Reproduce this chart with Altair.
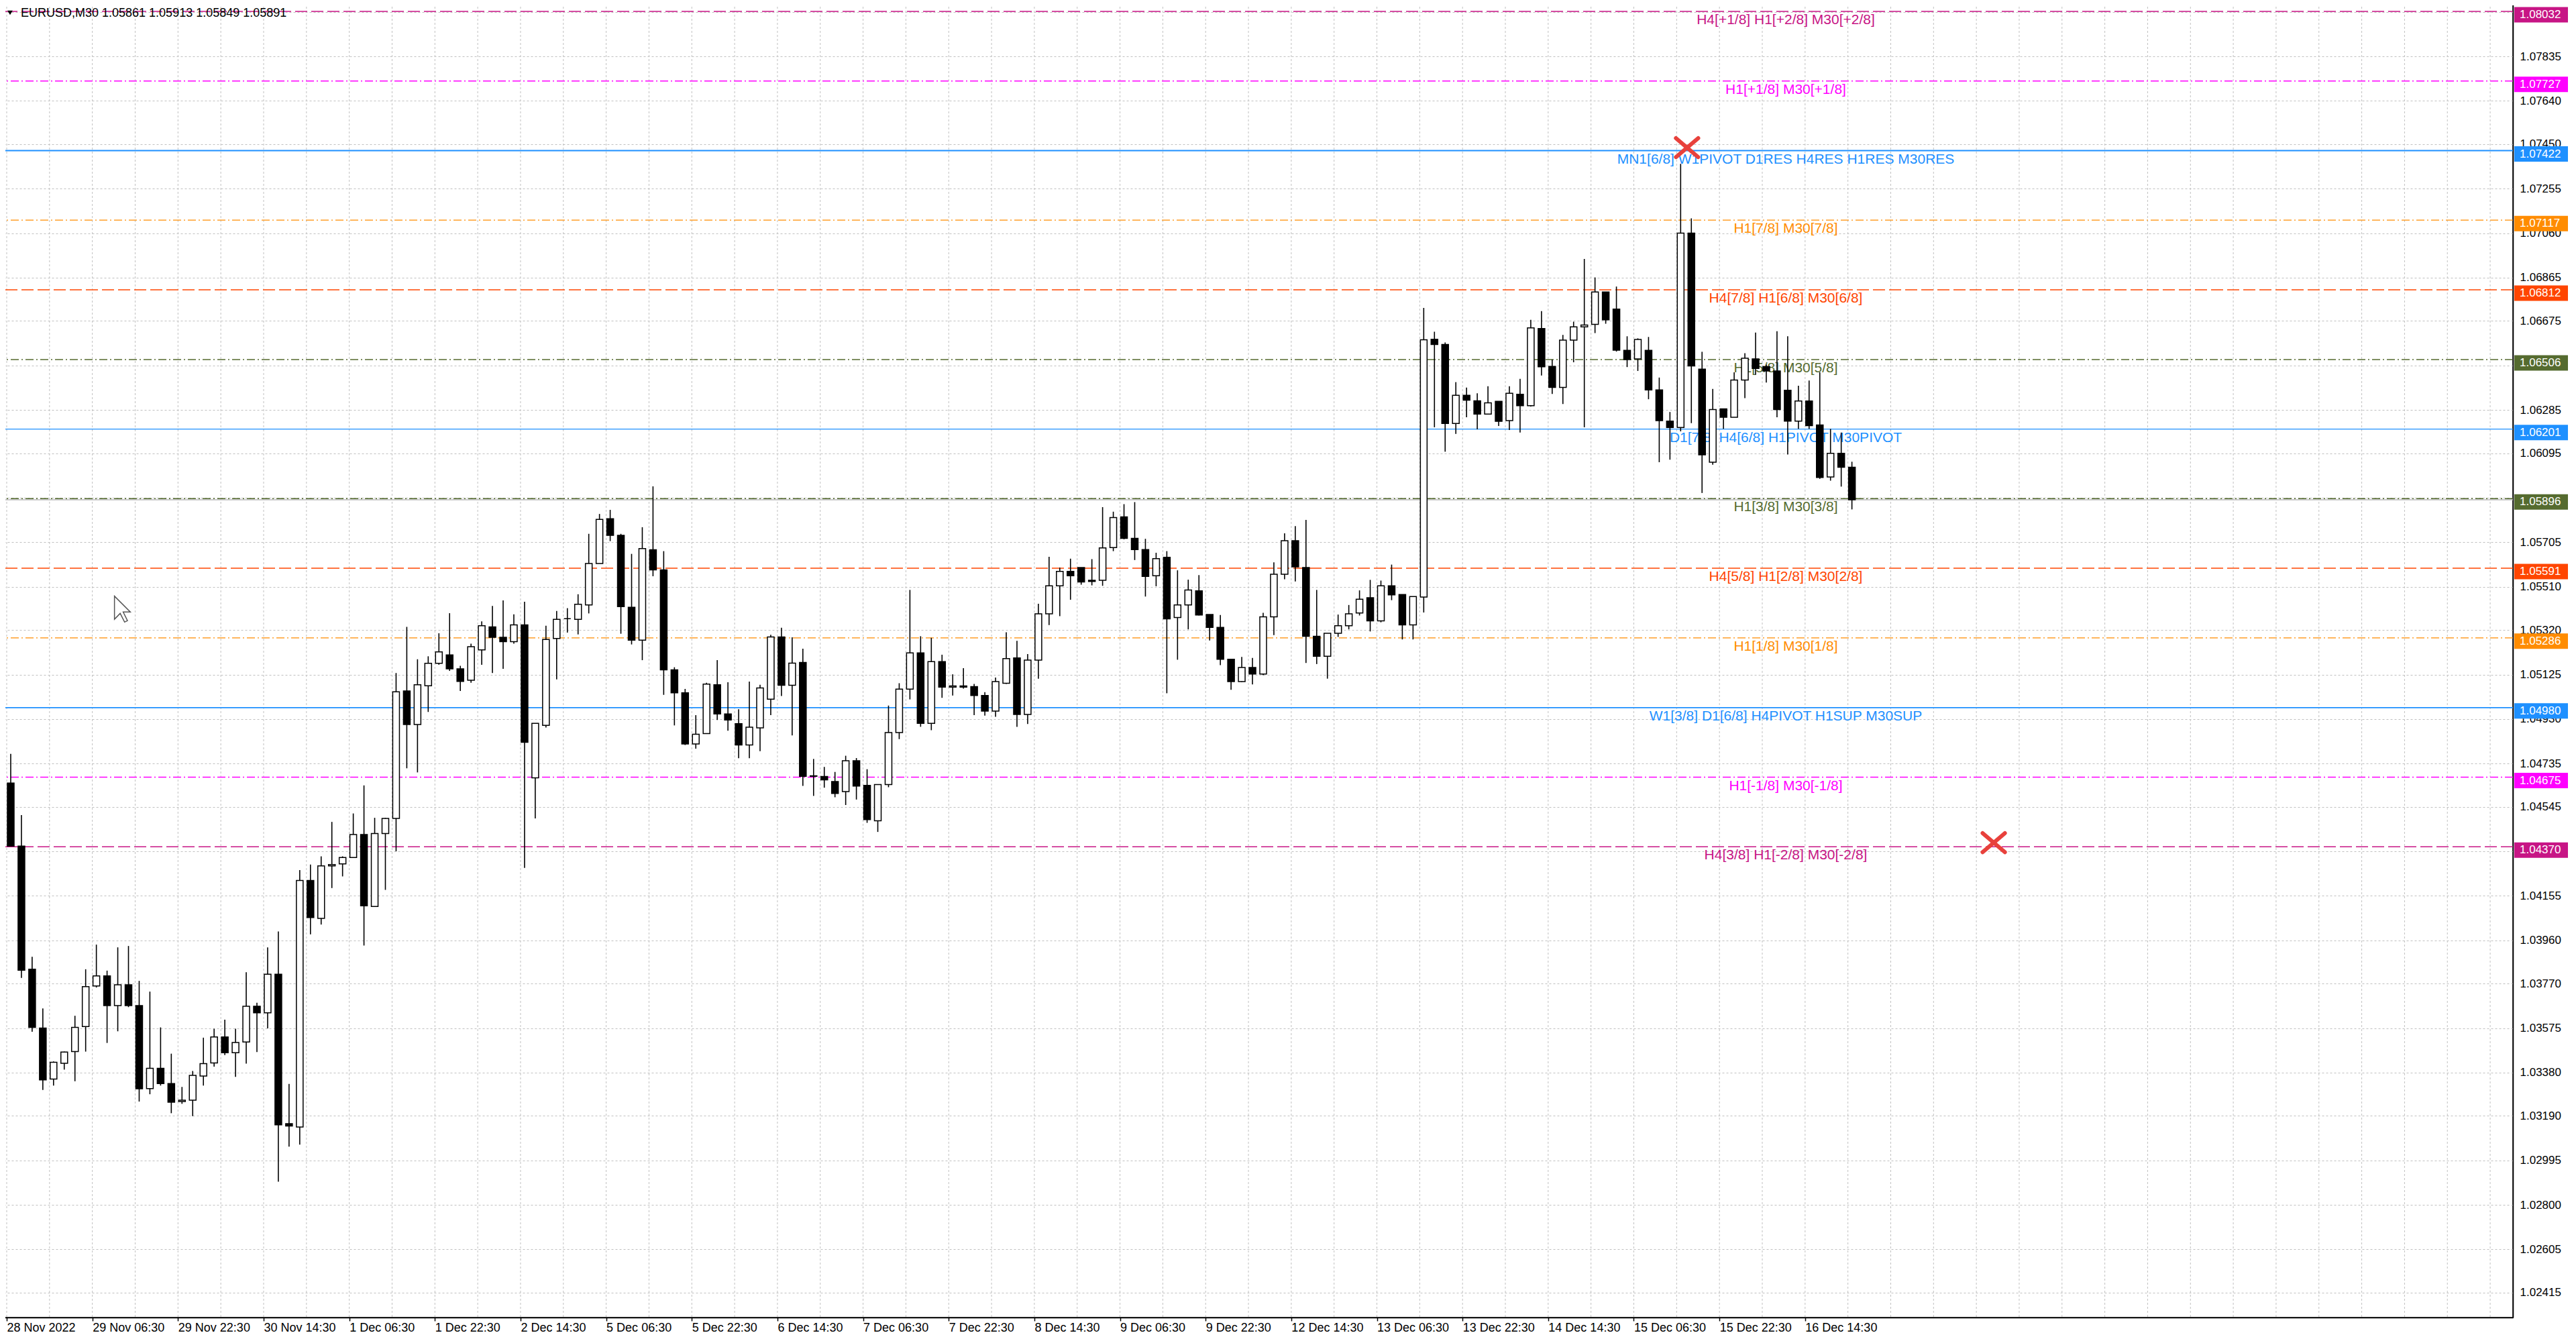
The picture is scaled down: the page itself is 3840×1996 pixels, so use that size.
import altair as alt
import pandas as pd

# EURUSD M30, grouped four bars per candle (prices in points, 1e-5)
opens = [
    104649, 104373, 103833, 103575, 103352, 103421, 103472, 103582, 103760, 103804,
    103674, 103765, 103674, 103310, 103399, 103332, 103253, 103259, 103365, 103422,
    103536, 103467, 103514, 103671, 103642, 103811, 103156, 103141, 104222, 104056,
    104286, 104295, 104323, 104424, 104108, 104428, 104494, 105053, 104906, 105076,
    105174, 105211, 105150, 105100, 105233, 105334, 105288, 105269, 105343, 104672,
    104902, 105283, 105370, 105367, 105430, 105612, 105808, 105735, 105420, 105276,
    105672, 105584, 105146, 105045, 104821, 104866, 105080, 104952, 104910, 104816,
    104891, 105017, 105290, 105078, 105178, 104681, 104678, 104656, 104612, 104747,
    104639, 104484, 104643, 104871, 105061, 105220, 104911, 105182, 105070, 105075,
    105072, 105033, 104965, 105087, 105198, 104950, 105188, 105391, 105514, 105577,
    105594, 105538, 105538, 105682, 105816, 105722, 105673, 105558, 105639, 105375,
    105430, 105492, 105388, 105332, 105192, 105094, 105156, 105127, 105378, 105565,
    105712, 105594, 105293, 105205, 105306, 105339, 105395, 105462, 105360, 105514,
    105476, 105343, 105465, 106595, 106572, 106226, 106349, 106325, 106267, 106323,
    106238, 106354, 106304, 106642, 106476, 106384, 106591, 106649, 106660, 106802,
    106727, 106546, 106509, 106546, 106373, 106236, 106208, 107060, 106464, 106056,
    106290, 106253, 106416, 106509, 106475, 106456, 106371, 106236, 106324, 106219,
    105991, 106095, 106034,
]
highs = [
    104777, 104509, 103888, 103661, 103429, 103472, 103629, 103833, 103941, 103827,
    103929, 103935, 103782, 103735, 103578, 103463, 103317, 103387, 103533, 103572,
    103612, 103572, 103820, 103686, 103929, 103999, 103330, 104268, 104292, 104328,
    104479, 104328, 104516, 104639, 104497, 104497, 105132, 105334, 105192, 105205,
    105306, 105394, 105163, 105260, 105358, 105426, 105450, 105389, 105444, 104911,
    105339, 105404, 105416, 105477, 105742, 105829, 105847, 105742, 105654, 105771,
    105950, 105666, 105157, 105062, 104947, 105089, 105188, 105091, 104973, 105094,
    105080, 105299, 105330, 105288, 105238, 104755, 104720, 104698, 104769, 104759,
    104710, 104643, 104989, 105087, 105496, 105293, 105286, 105212, 105126, 105153,
    105084, 105048, 105112, 105310, 105273, 105215, 105435, 105641, 105594, 105633,
    105594, 105631, 105859, 105839, 105872, 105881, 105720, 105659, 105666, 105582,
    105541, 105561, 105388, 105386, 105192, 105202, 105198, 105396, 105617, 105744,
    105776, 105803, 105496, 105306, 105388, 105430, 105494, 105540, 105537, 105607,
    105476, 105467, 106732, 106628, 106581, 106407, 106383, 106358, 106389, 106323,
    106389, 106421, 106680, 106718, 106506, 106614, 106672, 106947, 106866, 106802,
    106826, 106608, 106599, 106605, 106427, 106276, 107364, 107125, 106540, 106377,
    106290, 106450, 106534, 106624, 106484, 106630, 106608, 106391, 106414, 106450,
    106202, 106186, 106058,
]
lows = [
    104373, 103795, 103559, 103304, 103323, 103393, 103342, 103472, 103753, 103510,
    103561, 103667, 103253, 103285, 103323, 103202, 103243, 103189, 103323, 103406,
    103457, 103361, 103419, 103470, 103574, 102902, 103055, 103064, 103986, 104029,
    104189, 104240, 104323, 103937, 104108, 104181, 104350, 104714, 104696, 104961,
    105168, 105141, 105053, 105089, 105168, 105132, 105150, 105260, 104277, 104494,
    104893, 105104, 105309, 105301, 105393, 105612, 105710, 105304, 105257, 105188,
    105556, 105036, 104902, 104816, 104800, 104866, 104926, 104879, 104758, 104758,
    104789, 104947, 105031, 104858, 104637, 104593, 104629, 104587, 104553, 104577,
    104475, 104435, 104631, 104842, 105016, 104896, 104881, 105023, 105033, 105063,
    104947, 104945, 104940, 105084, 104896, 104908, 105107, 105342, 105381, 105453,
    105519, 105516, 105514, 105666, 105718, 105627, 105467, 105512, 105043, 105190,
    105323, 105384, 105274, 105166, 105058, 105092, 105082, 105122, 105298, 105543,
    105533, 105176, 105171, 105107, 105290, 105323, 105384, 105314, 105354, 105451,
    105279, 105279, 105397, 106209, 106102, 106180, 106253, 106200, 106265, 106215,
    106197, 106186, 106300, 106436, 106355, 106311, 106494, 106209, 106622, 106663,
    106541, 106473, 106456, 106332, 106056, 106067, 106191, 106227, 105921, 106045,
    106202, 106253, 106337, 106439, 106405, 106253, 106090, 106202, 106202, 105983,
    105975, 105949, 105849,
]
closes = [
    104373, 103829, 103578, 103348, 103425, 103470, 103578, 103757, 103804, 103674,
    103765, 103674, 103309, 103399, 103332, 103250, 103259, 103368, 103419, 103536,
    103467, 103512, 103671, 103642, 103811, 103151, 103146, 104222, 104060, 104286,
    104292, 104323, 104424, 104111, 104428, 104494, 105049, 104906, 105080, 105174,
    105224, 105150, 105095, 105247, 105339, 105288, 105269, 105343, 104828, 104911,
    105279, 105367, 105370, 105433, 105612, 105805, 105735, 105423, 105276, 105677,
    105584, 105146, 105045, 104821, 104863, 105083, 104952, 104926, 104816, 104894,
    105066, 105290, 105078, 105175, 104679, 104679, 104663, 104604, 104747, 104636,
    104489, 104643, 104871, 105061, 105220, 104911, 105182, 105070, 105075, 105070,
    105033, 104965, 105094, 105195, 104950, 105188, 105391, 105514, 105577, 105558,
    105531, 105533, 105680, 105813, 105722, 105673, 105555, 105633, 105369, 105430,
    105496, 105386, 105332, 105192, 105094, 105156, 105127, 105378, 105565, 105712,
    105597, 105293, 105205, 105306, 105339, 105391, 105455, 105360, 105514, 105474,
    105343, 105467, 106593, 106572, 106226, 106349, 106328, 106267, 106316, 106235,
    106358, 106304, 106645, 106474, 106384, 106591, 106649, 106657, 106802, 106680,
    106547, 106506, 106594, 106373, 106238, 106208, 107060, 106478, 106088, 106287,
    106253, 106416, 106512, 106467, 106456, 106287, 106236, 106324, 106216, 105989,
    106095, 106034, 105891,
]

symbol = "EURUSD,M30"
last_ohlc = [1.05861, 1.05913, 1.05849, 1.05891]
bid = 1.05891

time_labels = [
    "28 Nov 2022", "29 Nov 06:30", "29 Nov 22:30", "30 Nov 14:30", "1 Dec 06:30",
    "1 Dec 22:30", "2 Dec 14:30", "5 Dec 06:30", "5 Dec 22:30", "6 Dec 14:30",
    "7 Dec 06:30", "7 Dec 22:30", "8 Dec 14:30", "9 Dec 06:30", "9 Dec 22:30",
    "12 Dec 14:30", "13 Dec 06:30", "13 Dec 22:30", "14 Dec 14:30", "15 Dec 06:30",
    "15 Dec 22:30", "16 Dec 14:30",
]
price_ticks = [
    1.02415, 1.02605, 1.02800, 1.02995, 1.03190, 1.03380, 1.03575, 1.03770, 1.03960,
    1.04155, 1.04350, 1.04545, 1.04735, 1.04930, 1.05125, 1.05320, 1.05510, 1.05705,
    1.05900, 1.06095, 1.06285, 1.06480, 1.06675, 1.06865, 1.07060, 1.07255, 1.07450,
    1.07640, 1.07835, 1.08030,
]
hidden_ticks = ["1.04350", "1.05900", "1.06480", "1.08030"]

levels = [1.08032, 1.07727, 1.07422, 1.07117, 1.06812, 1.06506, 1.06201,
          1.05896, 1.05591, 1.05286, 1.04980, 1.04675, 1.04370]
level_names = [
    "H4[+1/8] H1[+2/8] M30[+2/8]",
    "H1[+1/8] M30[+1/8]",
    "MN1[6/8] W1PIVOT D1RES H4RES H1RES M30RES",
    "H1[7/8] M30[7/8]",
    "H4[7/8] H1[6/8] M30[6/8]",
    "H1[5/8] M30[5/8]",
    "D1[7/8] H4[6/8] H1PIVOT M30PIVOT",
    "H1[3/8] M30[3/8]",
    "H4[5/8] H1[2/8] M30[2/8]",
    "H1[1/8] M30[1/8]",
    "W1[3/8] D1[6/8] H4PIVOT H1SUP M30SUP",
    "H1[-1/8] M30[-1/8]",
    "H4[3/8] H1[-2/8] M30[-2/8]",
]
level_colors = ["#C71585", "#FF00FF", "#1E90FF", "#FF8C00", "#FF4500", "#556B2F", "#1E90FF",
                "#556B2F", "#FF4500", "#FF8C00", "#1E90FF", "#FF00FF", "#C71585"]
level_styles = ["dash", "dashdot", "solid", "dashdot", "dash", "dashdot", "solid",
                "dashdot", "dash", "dashdot", "solid", "dashdot", "dash"]
level_widths = [1.5, 1.5, 2.2, 1.2, 1.5, 1.5, 1.2, 1.5, 1.5, 1.2, 1.6, 1.5, 1.5]

# the two red crosses drawn on the chart (candle index, price)
cross_pos = [156.6, 185.25]
cross_price = [1.07435, 1.04388]

candles = pd.DataFrame({
    "k": list(range(len(opens))),
    "open": [v / 1e5 for v in opens],
    "high": [v / 1e5 for v in highs],
    "low": [v / 1e5 for v in lows],
    "close": [v / 1e5 for v in closes],
})
lv = pd.DataFrame({"price": levels, "name": level_names, "color": level_colors,
                   "style": level_styles, "width": level_widths})
crosses = pd.DataFrame({"k": cross_pos, "price": cross_price})

FONT = "Liberation Sans"
W, H = 3742, 1960

xs = alt.Scale(domain=[-0.4375, 233.4375], nice=False, zero=False)
ys = alt.Scale(domain=[1.023061, 1.080705], nice=False, zero=False)

# one time label every 32 bars (8 candles), grid every 16 bars
x_ticks = [8 * m - 0.375 for m in range(len(time_labels))]
grid_x = pd.DataFrame({"gx": [4 * j - 0.375 for j in range(59)]})
labels_js = "[" + ",".join("'%s'" % s for s in time_labels) + "]"
hidden_js = "[" + ",".join("'%s'" % s for s in hidden_ticks) + "]"

x_axis = alt.Axis(values=x_ticks, labelExpr=labels_js + "[round((datum.value + 0.375) / 8)]",
                  grid=False, ticks=True, tickSize=5, tickColor="black", tickWidth=1.5,
                  labelAlign="left", labelBaseline="top", labelPadding=1, labelFontSize=18,
                  labelFont=FONT, labelColor="black", labelFlush=False, labelOverlap=False,
                  labelBound=False, domainColor="black", domainWidth=1.5, title=None)
y_axis = alt.Axis(orient="right", values=price_ticks,
                  labelExpr="indexof(" + hidden_js + ", format(datum.value, '.5f')) >= 0 ? '' : format(datum.value, '.5f')",
                  grid=True, gridColor="#c0c0c0", gridDash=[3, 3], gridWidth=1,
                  ticks=False, tickSize=0, labelPadding=10, labelFontSize=17, labelFont=FONT,
                  labelColor="black", labelAlign="left", labelBaseline="middle",
                  labelOverlap=False, labelFlush=False, labelBound=False,
                  domainColor="black", domainWidth=1.5, title=None)


def xenc(field):
    return alt.X(field, type="quantitative", scale=xs, axis=x_axis)


def yenc(field):
    return alt.Y(field, type="quantitative", scale=ys, axis=y_axis)


vgrid = alt.Chart(grid_x).mark_rule(color="#c0c0c0", strokeDash=[3, 3], strokeWidth=1).encode(
    x=xenc("gx")
)

level_lines = alt.Chart(lv).mark_rule().encode(
    y=yenc("price"),
    color=alt.Color("color:N", scale=None),
    strokeDash=alt.StrokeDash("style:N", scale=alt.Scale(domain=["dash", "dashdot", "solid"],
                                                         range=[[18, 6], [12, 4, 2, 4], [1, 0]]),
                              legend=None),
    strokeWidth=alt.StrokeWidth("width:Q", scale=None),
)

bid_line = alt.Chart(pd.DataFrame({"price": [bid]})).mark_rule(color="#b8b8b8", strokeWidth=1.5).encode(
    y=yenc("price")
)

level_text = alt.Chart(lv).mark_text(align="center", baseline="alphabetic", dy=19,
                                     fontSize=21, font=FONT).encode(
    x=alt.value(2658),
    y=yenc("price"),
    text="name:N",
    color=alt.Color("color:N", scale=None),
)

wicks = alt.Chart(candles).mark_rule(color="black", strokeWidth=1.6).encode(
    x=xenc("k"),
    y=yenc("low"),
    y2="high:Q",
)

bodies = alt.Chart(candles).mark_bar(width=10, stroke="black", strokeWidth=1.5).encode(
    x=xenc("k"),
    y=yenc("open"),
    y2="close:Q",
    fill=alt.condition("datum.close >= datum.open", alt.value("white"), alt.value("black")),
)

cross_marks = alt.Chart(crosses).mark_point(shape="M-1,-0.85L1,0.85M1,-0.85L-1,0.85", size=1100,
                                             filled=False, stroke="#e8413c", strokeWidth=6,
                                             strokeCap="round", opacity=1).encode(
    x=xenc("k"),
    y=yenc("price"),
)

tags = alt.Chart(lv).mark_point(shape="M-1,-0.2875H1V0.2875H-1Z", size=6400, filled=True,
                                opacity=1, strokeWidth=0, yOffset=5).encode(
    x=alt.value(3784),
    y=yenc("price"),
    fill=alt.Fill("color:N", scale=None),
)

tag_text = alt.Chart(lv).mark_text(align="left", baseline="middle", dy=5, fontSize=17,
                                   font=FONT, color="white").encode(
    x=alt.value(3752),
    y=yenc("price"),
    text=alt.Text("price:Q", format=".5f"),
)

header_df = pd.DataFrame({"t": [symbol + "  " + " ".join("%.5f" % v for v in last_ohlc)]})
header = alt.Chart(header_df).mark_text(align="left", baseline="middle", fontSize=18,
                                        font=FONT, color="black").encode(
    x=alt.value(27), y=alt.value(16), text="t:N"
)
header_arrow = alt.Chart(header_df).mark_point(shape="triangle-down", size=60, filled=True,
                                               color="black", opacity=1).encode(
    x=alt.value(11), y=alt.value(15)
)

# mouse pointer left on the screenshot
pointer = alt.Chart(header_df).mark_point(
    shape="M-1,-1L-1,0.78L-0.56,0.33L-0.22,1L0,0.89L-0.33,0.22L0.22,0.22Z",
    size=1500, filled=True, fill="white", stroke="#555555", strokeWidth=1.5, opacity=1,
).encode(x=alt.value(186), y=alt.value(904))

chart = alt.layer(
    vgrid, level_lines, bid_line, level_text, wicks, bodies, cross_marks,
    tags, tag_text, header, header_arrow, pointer,
).properties(
    width=W, height=H,
    autosize=alt.AutoSizeParams(type="none"),
    padding={"left": -4, "top": -4, "right": 86, "bottom": 24},
    background="white",
).configure_view(stroke="black", strokeWidth=1.5)

chart.save("out.html", embed_options={"renderer": "svg", "actions": False})
